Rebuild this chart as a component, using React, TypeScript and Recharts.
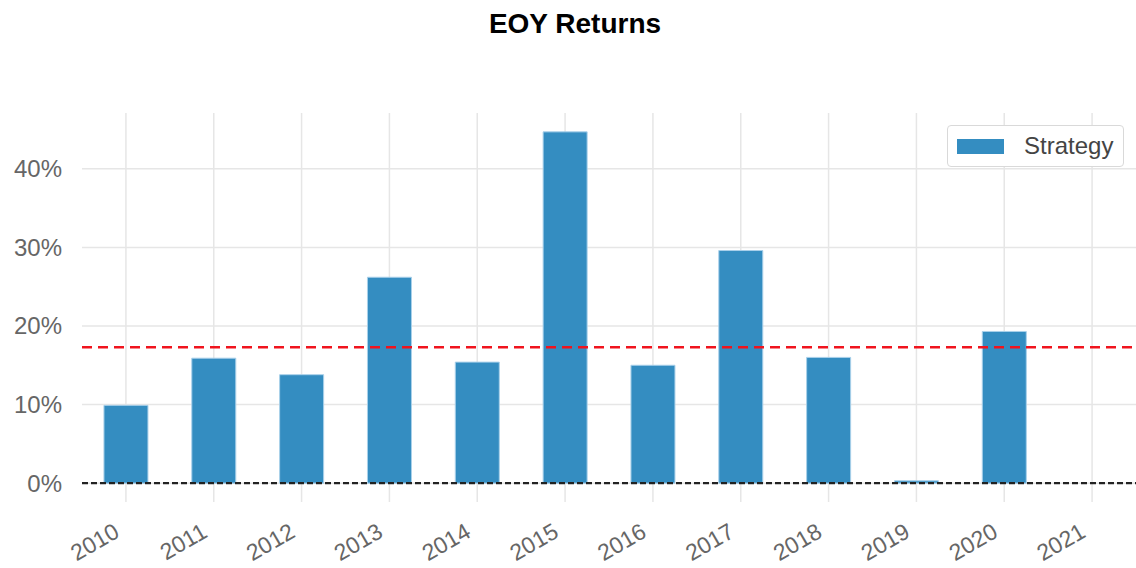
import React from 'react';
import {
  BarChart,
  Bar,
  XAxis,
  YAxis,
  CartesianGrid,
  ReferenceLine,
} from 'recharts';

// ---------------------------------------------------------------------------
// Data
// ---------------------------------------------------------------------------

const YEARS = ['2010', '2011', '2012', '2013', '2014', '2015', '2016', '2017', '2018', '2019', '2020', '2021'];
const STRATEGY_RETURNS = [9.9, 15.9, 13.8, 26.2, 15.4, 44.7, 15.0, 29.6, 16.0, 0.3, 19.3, 0];
const MEAN_RETURN = 17.3;
const Y_TICKS = [0, 10, 20, 30, 40];

const FONT = 'Arial, "Liberation Sans", sans-serif';
const BAR_COLOR = '#348dc1';

const data = YEARS.map((year, i) => ({ year, strategy: STRATEGY_RETURNS[i] }));

// ---------------------------------------------------------------------------
// Pieces
// ---------------------------------------------------------------------------

const YearTick = (props: any) => {
  const { x, y, payload } = props;
  const tx = x - 5;
  const ty = y + 34;
  return (
    <text
      x={tx}
      y={ty}
      textAnchor="end"
      transform={`rotate(-30, ${tx}, ${ty})`}
      fontSize={23}
      fontFamily={FONT}
      fill="#666"
    >
      {payload.value}
    </text>
  );
};

const LegendBox = () => (
  <div
    style={{
      position: 'absolute',
      left: 947,
      top: 125,
      width: 177,
      height: 42,
      border: '1px solid #d9d9d9',
      borderRadius: 4,
      background: '#fff',
      display: 'flex',
      alignItems: 'center',
      boxSizing: 'border-box',
      fontFamily: FONT,
    }}
  >
    <span
      style={{
        display: 'inline-block',
        width: 47,
        height: 15,
        marginLeft: 9,
        background: BAR_COLOR,
      }}
    />
    <span style={{ marginLeft: 20, fontSize: 24, color: '#444' }}>Strategy</span>
  </div>
);

// ---------------------------------------------------------------------------
// Component
// ---------------------------------------------------------------------------

export default function App() {
  return (
    <div style={{ position: 'absolute', left: 0, top: 0, width: 1136, height: 568, background: '#fff' }}>
      <div
        style={{
          position: 'absolute',
          left: 0,
          top: 10,
          width: 1150,
          textAlign: 'center',
          fontFamily: FONT,
          fontWeight: 'bold',
          fontSize: 28,
          lineHeight: '28px',
          color: '#000',
        }}
      >
        EOY Returns
      </div>
      <BarChart
        width={1136}
        height={568}
        data={data}
        margin={{ top: 113, right: 0, bottom: 0, left: 0 }}
        barCategoryGap="25%"
      >
        <CartesianGrid stroke="#e6e6e6" strokeWidth={1.5} syncWithTicks />
        <XAxis
          dataKey="year"
          axisLine={false}
          tickLine={false}
          tickSize={0}
          tickMargin={0}
          height={66}
          interval={0}
          tick={<YearTick />}
        />
        <YAxis
          width={82}
          domain={[-2.4, 47.1]}
          allowDataOverflow
          ticks={Y_TICKS}
          axisLine={false}
          tickLine={false}
          tickSize={6}
          tickMargin={14}
          tickFormatter={(v: number) => `${v}%`}
          tick={{ fontSize: 24, fontFamily: FONT, fill: '#666' }}
        />
        <Bar
          dataKey="strategy"
          name="Strategy"
          fill={BAR_COLOR}
          stroke="#a9d0ea"
          strokeWidth={1}
          isAnimationActive={false}
        />
        <ReferenceLine y={0} stroke="#222" strokeWidth={2.2} strokeDasharray="6 3" />
        <ReferenceLine y={MEAN_RETURN} stroke="#f0141e" strokeWidth={2.5} strokeDasharray="10 6" />
      </BarChart>
      <LegendBox />
    </div>
  );
}
